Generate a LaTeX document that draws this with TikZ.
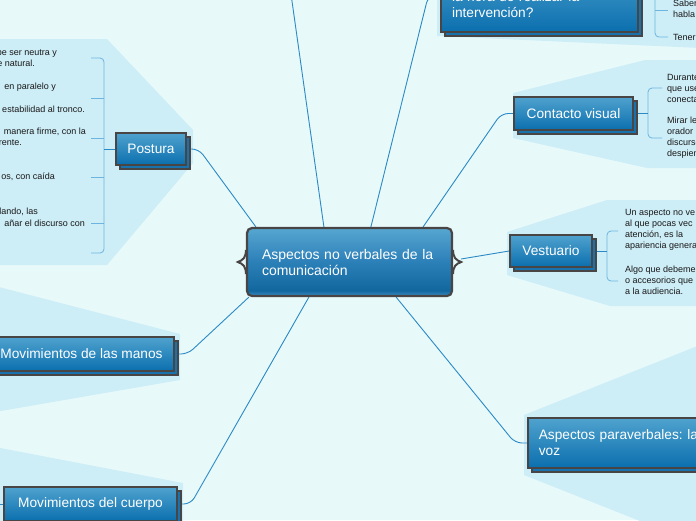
\documentclass[tikz,border=0pt]{standalone}
\usepackage{fontspec}
\setmainfont{Liberation Sans}
\usetikzlibrary{shadows,calc,backgrounds}
\definecolor{bgc}{HTML}{E8F9FA}
\definecolor{fanc}{HTML}{CDEDF7}
\definecolor{wirec}{HTML}{2B8AC6}
\definecolor{brkc}{HTML}{6DB5DF}
\definecolor{rim}{HTML}{4A4545}
\definecolor{btop}{HTML}{4FA2CE}
\definecolor{bbot}{HTML}{0B6FAE}
\definecolor{shd}{HTML}{1872AD}
\definecolor{ctop}{HTML}{57A6D1}
\definecolor{cmid}{HTML}{2C80B8}
\definecolor{cdark}{HTML}{12679F}
\definecolor{cbot}{HTML}{3A8DC2}
\pgfdeclareverticalshading{censhade}{100bp}{color(0bp)=(cbot); color(25bp)=(cbot); color(29bp)=(cdark); color(50bp)=(cmid); color(75bp)=(ctop); color(100bp)=(ctop)}
\frenchspacing
\tikzset{
  wire/.style={draw=wirec,line width=0.9pt,rounded corners=7pt},
  brk/.style={draw=brkc,line width=0.8pt,rounded corners=4pt},
  topic/.style={draw=rim,line width=1.6pt,top color=btop,bottom color=bbot,text=white,
    font=\fontsize{13.7}{16}\selectfont,inner xsep=11pt,inner ysep=0pt,
    general shadow={shadow xshift=4pt,shadow yshift=-4pt,fill=shd,draw=rim,line width=1.6pt}},
  central/.style={draw=rim,line width=2.2pt,rounded corners=5pt,shading=censhade,text=white,
    font=\fontsize{14}{16}\selectfont,align=left,text width=175pt,inner xsep=15pt,
    minimum width=205pt,minimum height=68pt},
  leaf/.style={font=\fontsize{9}{11}\selectfont,align=left,anchor=west,inner sep=0pt,text=black!90},
}
\begin{document}
\begin{tikzpicture}[x=1pt,y=-1pt]
\useasboundingbox (0,0) rectangle (696,520);
\begin{pgfonlayer}{background}
\clip (0,0) rectangle (696,520);
\fill[bgc] (0,0) rectangle (696,520);
% fans
\fill[fanc] (193,130) -- (107,39) -- (-5,39) -- (-5,265) -- (107,265) -- (193,163) -- cycle;
\fill[fanc] (437,-5) -- (437,36) -- (700,48) -- (700,-5) -- cycle;
\fill[fanc] (513,93) -- (645,60) -- (700,60) -- (700,168) -- (647,168) -- (513,138) -- cycle;
\fill[fanc] (507,232) -- (607,200) -- (700,200) -- (700,306) -- (610,306) -- (507,275) -- cycle;
\fill[fanc] (180,334) -- (-5,286) -- (-5,412) -- (180,380) -- cycle;
\fill[fanc] (183,483) -- (-5,447) -- (-5,525) -- (183,525) -- cycle;
\fill[fanc] (524,415) -- (700,345) -- (700,525) -- (650,525) -- (524,475) -- cycle;
\end{pgfonlayer}
\clip (0,0) rectangle (696,520);

\node[central] (cen) at (349.5,262) {Aspectos no verbales de la\\comunicación};
\draw[rim,line width=2pt] ($(cen.west)+(0,-12)$) .. controls +(0,8) and +(5,-2) .. ($(cen.west)+(-8,0)$) .. controls +(5,2) and +(0,-8) .. ($(cen.west)+(0,12)$);
\draw[rim,line width=2pt] ($(cen.east)+(0,-12)$) .. controls +(0,8) and +(-5,-2) .. ($(cen.east)+(8,0)$) .. controls +(-5,2) and +(0,-8) .. ($(cen.east)+(0,12)$);

\node[topic,minimum width=197pt,minimum height=72pt,text width=175pt,align=left] (tn) at (539.5,-4) {\strut\\la hora de realizar la\\intervención?};
\node[topic,minimum width=119pt,minimum height=33pt] (cv) at (573.5,113.5) {Contacto visual};
\node[topic,minimum width=82pt,minimum height=32pt] (vest) at (551,251) {Vestuario};
\node[topic,minimum width=70pt,minimum height=32pt] (post) at (151,149) {Postura};
\node[topic,minimum width=185pt,minimum height=34pt] (man) at (81.5,354) {Movimientos de las manos};
\node[topic,minimum width=173pt,minimum height=34pt] (cue) at (90.5,504) {Movimientos del cuerpo};
\node[topic,minimum width=200pt,minimum height=50pt,text width=178pt,align=left,anchor=west] (par) at (527,443) {Aspectos paraverbales: la\\voz};

% leaves
\node[leaf] (tn1) at (673,8.5) {Saber\\habla};
\node[leaf] (tn2) at (673,37) {Tener};
\node[leaf] (cv1) at (667,88) {Durante\\que use\\conecta};
\node[leaf] (cv2) at (667,137.5) {Mirar le\\orador\\discurso\\despien};
\node[leaf] (ve1) at (625,230) {Un aspecto no ve\\al que pocas vec\\atención, es la\\apariencia genera};
\node[leaf] (ve2) at (625,280) {Algo que debeme\\o accesorios que\\a la audiencia.};
\foreach \t/\xe/\yy [count=\i] in {{be ser neutra y}/57/53, {e natural.}/35/63, {en paralelo y}/56/87, {estabilidad al tronco.}/85/109, {manera firme, con la}/86/132, {rente.}/22/143, {os, con caída}/55/177, {lando, las}/38/212, {añar el discurso con}/85/223}
  \node[leaf,anchor=east] (pl\i) at (\xe,\yy) {\t};

% brackets
\coordinate (pb) at (104,58);
\coordinate (cb) at (648,88);
\coordinate (vb) at (607,231);
\coordinate (tb) at (655,10);
\coordinate (kb) at (-10,505);
\coordinate (upA) at (289,-20);
\begin{pgfonlayer}{background}
\clip (0,0) rectangle (696,520);
\draw[brk] (91,58) -- (pb) -- (104,253) -- (91,253);
\foreach \y in {98,138,177,223} \draw[brk] (104,\y) -- (91,\y);
\draw[brk] (662,88) -- (cb) -- (648,138) -- (662,138);
\draw[brk] (618,231) -- (vb) -- (607,281) -- (618,281);
\draw[brk] (655,-20) -- (655,37) -- (668,37);
\draw[brk] (tb) -- (668,10);
% connectors
\draw[wire] (post.west) -- (post.west -| pb);
\draw[wire] (cv.east) -- (cv.east -| cb);
\draw[wire] (vest.east) -- (vest.east -| vb);
\draw[wire] (tn.east) -- (tn.east -| tb);
\draw[wire] (cue.west) -- (cue.west -| kb);
\draw[wire] ([xshift=10pt]cen.north west) -- ([xshift=12pt]post.east) -- (post.east);
\draw[wire] ([xshift=78pt]cen.north west) -- (upA);
\draw[wire] ([xshift=125pt]cen.north west) -- ([xshift=-12pt]tn.west) -- (tn.west);
\draw[wire] ([xshift=-30pt]cen.north east) -- ([xshift=-12pt]cv.west) -- (cv.west);
\draw[wire] ([xshift=8pt,yshift=3pt]cen.east) -- (vest.west);
\draw[wire] ([xshift=3pt]cen.south west) -- ([xshift=13pt]man.east) -- (man.east);
\draw[wire] ([xshift=63pt]cen.south west) -- ([xshift=13pt]cue.east) -- (cue.east);
\draw[wire] ([xshift=-57pt]cen.south east) -- ([xshift=-12pt]par.west) -- (par.west);
\end{pgfonlayer}
\end{tikzpicture}
\end{document}
